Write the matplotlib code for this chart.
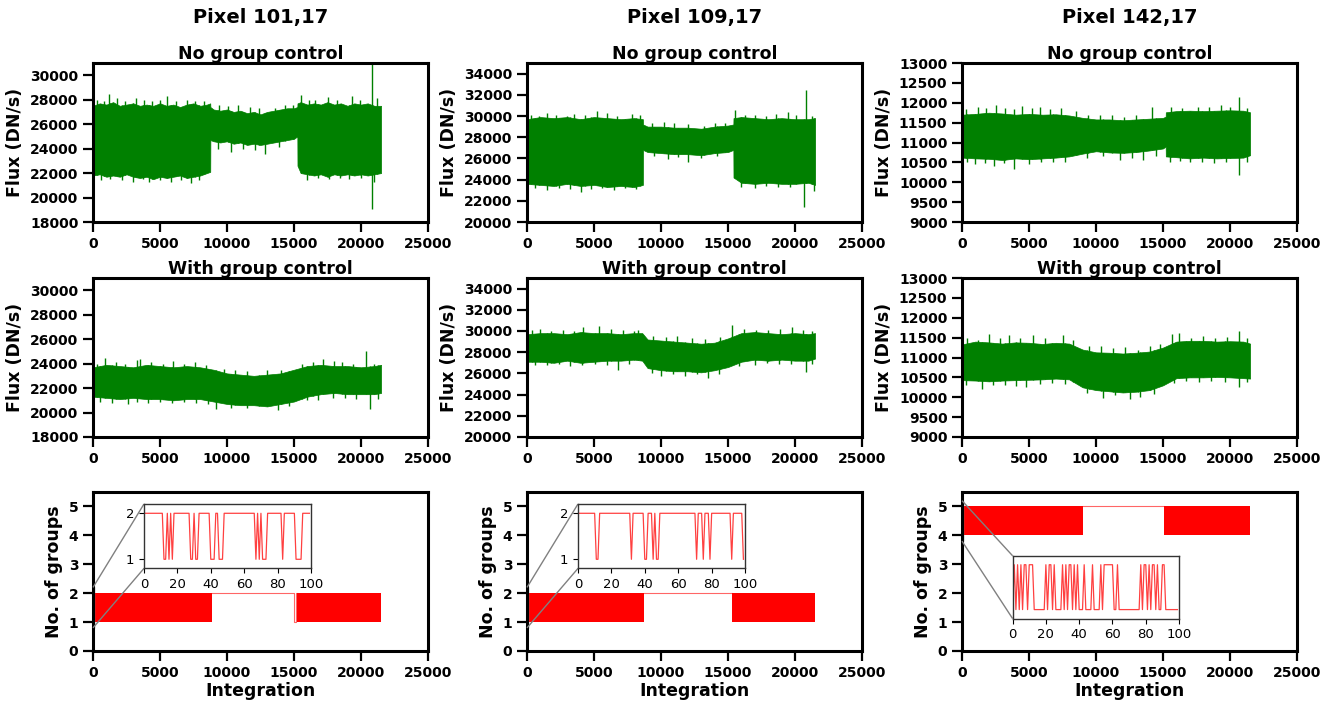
#3ピクセルのフラックスとグループ数（group controlの有無）をプロットする。
import numpy as np
import matplotlib.pyplot as plt
from mpl_toolkits.axes_grid1.inset_locator import mark_inset

plt.rcParams['font.family'] = ['DejaVu Sans']
plt.rcParams['font.weight'] = 'bold'
plt.rcParams['axes.labelweight'] = 'bold'
plt.rcParams['axes.titleweight'] = 'bold'

pixels = ['Pixel 101,17', 'Pixel 109,17', 'Pixel 142,17']
flux_ylim = [(18000, 31000), (20000, 35000), (9000, 13000)]
flux_yticks = [np.arange(18000, 30001, 2000), np.arange(20000, 34001, 2000), np.arange(9000, 13001, 500)]

# ---- 101,17 no group control (envelope of the noisy band) ----
a1_x = [0, 500, 1000, 1500, 2000, 2500, 3000, 3500, 4000, 4500, 5000, 5500, 6000, 6500, 7000, 7500,
        8000, 8500, 8750, 8760, 9000, 9500, 10000, 10500, 11000, 11500, 12000, 12500, 13000, 13500,
        14000, 14500, 15000, 15250, 15260, 15500, 16000, 16500, 17000, 17500, 18000, 18500, 19000,
        19500, 20000, 20500, 21000, 21500]
a1_hi = [27500, 27700, 27600, 27800, 27500, 27600, 27700, 27500, 27600, 27500, 27700, 27500, 27600, 27400,
         27600, 27700, 27500, 27600, 27700, 27400, 27200, 27100, 27200, 27000, 27100, 26900, 27000, 26800,
         27000, 27100, 27200, 27300, 27300, 27400, 27700, 27800, 27600, 27700, 27600, 27800, 27600, 27700,
         27500, 27700, 27600, 27700, 27500, 27500]
a1_lo = [21800, 21900, 21700, 21800, 21700, 21900, 21700, 21600, 21700, 21500, 21700, 21600, 21700, 21800,
         21600, 21700, 21800, 22000, 22100, 24700, 24600, 24500, 24600, 24400, 24500, 24300, 24400, 24300,
         24400, 24500, 24600, 24700, 24800, 25000, 22600, 22000, 21900, 21800, 21900, 21700, 21900, 21800,
         21900, 21800, 21900, 21800, 21900, 22000]
a1_up_x = [300, 800, 1200, 1800, 2400, 3200, 3800, 4400, 5000, 5500, 6200, 7000, 7600, 8300,
           9400, 10100, 10800, 11700, 12400, 13600, 14300, 14900,
           15500, 16100, 16600, 17500, 18200, 19300, 19900, 20800, 21200]
a1_up_y = [28000, 27900, 28500, 28100, 27900, 28100, 28000, 27900, 28000, 28300, 27900, 28000, 27900, 27900,
           27600, 27500, 27600, 27400, 27300, 27300, 27600, 27600,
           28400, 28000, 28000, 28200, 28000, 28300, 28000, 31000, 28100]
a1_dn_x = [600, 1300, 2200, 3000, 3700, 4200, 5000, 5800, 6600, 7300, 7900,
           9300, 10300, 11200, 12100, 12800, 13900,
           16000, 16800, 17600, 18400, 19100, 20000, 20800, 21000]
a1_dn_y = [21400, 21500, 21400, 21300, 21500, 21300, 21400, 21300, 21400, 21200, 21400,
           24000, 23700, 24000, 23900, 23600, 24100,
           21400, 21600, 21500, 21600, 21500, 21600, 19100, 21300]

# ---- 101,17 with group control ----
a2_x = [0, 1000, 2000, 3000, 4000, 5000, 6000, 7000, 8000, 9000, 10000, 11000, 12000, 13000, 14000,
        15000, 16000, 17000, 18000, 19000, 20000, 21000, 21500]
a2_hi = [23700, 23900, 23800, 23700, 23900, 23800, 23700, 23800, 23700, 23500, 23200, 23100, 23000, 23100,
         23200, 23500, 23800, 23900, 23800, 23800, 23700, 23800, 23900]
a2_lo = [21300, 21200, 21100, 21200, 21100, 21100, 21000, 21100, 21100, 20900, 20700, 20600, 20600, 20500,
         20700, 20900, 21300, 21500, 21600, 21500, 21500, 21500, 21600]
a2_up_x = [300, 900, 1700, 2400, 3300, 3500, 4300, 5200, 6000, 6800, 7600, 8400, 9800, 10600, 11500,
           13000, 14000, 15600, 16400, 17200, 18000, 18600, 19400, 20400, 21000]
a2_up_y = [24000, 24500, 24100, 24000, 24300, 24400, 24100, 24000, 24200, 24000, 24100, 23900, 23600, 23500,
           23400, 23500, 23500, 24000, 24100, 24400, 24200, 24100, 24000, 25000, 24000]
a2_dn_x = [500, 1400, 2600, 3300, 4100, 5000, 5900, 6800, 7700, 8600, 9200, 10300, 11500, 12400, 13800,
           14600, 16000, 16800, 17900, 18800, 19600, 20700, 21300]
a2_dn_y = [20900, 20800, 20700, 20900, 20800, 20900, 20800, 20900, 20800, 20700, 20300, 20400, 20400, 20500,
           20200, 20500, 21000, 21000, 21200, 21200, 21100, 20300, 21100]

# ---- 109,17 no group control ----
b1_x = [0, 1000, 2000, 3000, 4000, 5000, 6000, 7000, 8000, 8650, 8660, 9000, 10000, 11000, 12000, 13000,
        14000, 15000, 15400, 15410, 16000, 17000, 18000, 19000, 20000, 21000, 21500]
b1_hi = [29700, 29900, 29800, 29900, 29700, 29900, 29800, 29700, 29800, 29700, 29200, 29000, 29000, 28900,
         28900, 28800, 29000, 29100, 29200, 29800, 29900, 29800, 29700, 29800, 29700, 29700, 29800]
b1_lo = [23600, 23500, 23400, 23600, 23400, 23500, 23300, 23400, 23300, 23500, 26800, 26600, 26500, 26400,
         26400, 26300, 26500, 26600, 26800, 24200, 23700, 23600, 23700, 23600, 23600, 23700, 23500]
b1_up_x = [300, 900, 1500, 2200, 3000, 3500, 4300, 5200, 6000, 6700, 7800, 8400,
           9300, 10200, 11000, 12000, 13200, 14000, 14800,
           15500, 16300, 17000, 17800, 18600, 19500, 20100, 20800, 21300]
b1_up_y = [30100, 30000, 30300, 30100, 30000, 30200, 30100, 30500, 30300, 30000, 30200, 30100,
           29300, 29400, 29300, 29200, 29100, 29300, 29300,
           30600, 30100, 30100, 30000, 30200, 30400, 30100, 32500, 30000]
b1_dn_x = [600, 1500, 2400, 3200, 4000, 4800, 5600, 6500, 7300, 8100,
           9500, 10500, 11300, 12000, 13000, 14200,
           16000, 17000, 17800, 18700, 19600, 20700, 21400]
b1_dn_y = [23200, 23000, 23200, 23100, 22800, 23100, 23200, 23000, 23200, 23100,
           26200, 25900, 26100, 25700, 26000, 26200,
           23300, 23200, 23400, 23300, 23300, 21400, 22900]

# ---- 109,17 with group control ----
b2_x = [0, 1000, 2000, 3000, 4000, 5000, 6000, 7000, 8000, 8600, 9000, 10000, 11000, 12000, 13000, 14000,
        15000, 16000, 17000, 18000, 19000, 20000, 21000, 21500]
b2_hi = [29700, 29800, 29800, 29700, 29900, 29800, 29800, 29700, 29800, 29800, 29200, 29100, 29000, 28900,
         28800, 28900, 29300, 29800, 29900, 29800, 29700, 29800, 29700, 29800]
b2_lo = [27100, 27100, 27000, 27200, 27000, 27100, 27200, 27200, 27300, 27200, 26500, 26300, 26200, 26200,
         26100, 26300, 26600, 27100, 27300, 27200, 27300, 27200, 27200, 27400]
b2_up_x = [400, 1000, 1800, 2700, 3500, 4200, 5400, 6300, 7200, 8000, 8300,
           9400, 10400, 11200, 12300, 13300, 14400,
           15300, 16200, 17100, 18000, 18900, 19800, 20600, 21300]
b2_up_y = [30100, 30200, 30000, 30100, 30000, 30400, 30500, 30200, 30100, 30000, 30100,
           29500, 29400, 29500, 29300, 29200, 29400,
           30600, 30200, 30100, 30100, 30200, 30400, 30100, 30000]
b2_dn_x = [600, 1500, 2400, 3200, 4100, 5100, 6000, 6800, 7600,
           9300, 10000, 10900, 11800, 12700, 13500, 14300,
           15800, 17000, 17900, 18800, 19700, 20800, 21300]
b2_dn_y = [26800, 26800, 26900, 26700, 26800, 26900, 26800, 26300, 26900,
           26000, 25800, 25900, 25800, 25900, 25600, 25900,
           26700, 26800, 27000, 26900, 26900, 26100, 26900]

# ---- 142,17 no group control ----
c1_x = [0, 1000, 2000, 3000, 4000, 5000, 6000, 7000, 8000, 9000, 10000, 11000, 12000, 13000, 14000, 15000,
        15200, 15210, 16000, 17000, 18000, 19000, 20000, 21000, 21500]
c1_hi = [11700, 11720, 11750, 11730, 11700, 11720, 11700, 11710, 11680, 11620, 11580, 11580, 11560, 11580,
         11600, 11620, 11650, 11760, 11790, 11800, 11790, 11800, 11810, 11800, 11760]
c1_lo = [10620, 10600, 10590, 10560, 10600, 10580, 10600, 10620, 10650, 10720, 10780, 10750, 10740, 10760,
         10800, 10850, 10900, 10650, 10630, 10600, 10620, 10600, 10610, 10620, 10680]
c1_up_x = [300, 1200, 1800, 2500, 3200, 3900, 4500, 5200, 5800, 6600, 7400, 8500,
           9400, 10300, 11200, 12100, 13000, 14200,
           15600, 16400, 17600, 18400, 19300, 20000, 20700, 21300]
c1_up_y = [11850, 11900, 11880, 11950, 11860, 11850, 11920, 11870, 11900, 11850, 11860, 11800,
           11700, 11680, 11700, 11650, 11700, 11900,
           11900, 11880, 11900, 11890, 11950, 11900, 12150, 11880]
c1_dn_x = [400, 1000, 1700, 2400, 3100, 3900, 5000, 5900, 6800, 7700,
           9300, 10500, 11800, 12700, 13500, 14500,
           15500, 16300, 17000, 17900, 18800, 19700, 20700, 21300]
c1_dn_y = [10500, 10450, 10480, 10400, 10480, 10330, 10450, 10500, 10500, 10520,
           10620, 10650, 10550, 10620, 10560, 10650,
           10520, 10530, 10500, 10520, 10490, 10500, 10180, 10520]

# ---- 142,17 with group control ----
c2_x = [0, 1000, 2000, 3000, 4000, 5000, 6000, 7000, 8000, 9000, 10000, 11000, 12000, 13000, 14000,
        15000, 16000, 17000, 18000, 19000, 20000, 21000, 21500]
c2_hi = [11330, 11400, 11380, 11350, 11380, 11370, 11340, 11370, 11350, 11200, 11130, 11120, 11100, 11120,
         11150, 11250, 11400, 11420, 11420, 11400, 11410, 11400, 11350]
c2_lo = [10430, 10420, 10400, 10420, 10430, 10440, 10450, 10470, 10450, 10250, 10180, 10150, 10120, 10140,
         10180, 10300, 10480, 10500, 10500, 10510, 10500, 10480, 10470]
c2_up_x = [400, 1200, 2000, 2800, 3500, 4300, 5300, 6200, 7500, 8300,
           9500, 10400, 11300, 12200, 13100, 14000, 14800,
           15700, 16200, 17100, 18000, 18900, 19800, 20700, 21300]
c2_up_y = [11500, 11450, 11580, 11480, 11560, 11500, 11560, 11480, 11560, 11450,
           11300, 11280, 11250, 11260, 11200, 11300, 11350,
           11580, 11620, 11500, 11550, 11500, 11520, 11660, 11480]
c2_dn_x = [300, 1500, 2300, 3200, 4000, 4800, 5800, 6700, 7700,
           9300, 10500, 11400, 12500, 13300, 14300,
           15800, 16700, 17700, 18600, 19600, 20700, 21300]
c2_dn_y = [10300, 10200, 10300, 10320, 10280, 10250, 10330, 10350, 10330,
           10100, 9980, 10050, 9950, 10000, 10080,
           10350, 10400, 10380, 10400, 10390, 10250, 10380]

# ---- number of groups ----
# 2値を高速に行き来する区間（塗りつぶしで描く）
grp_blocks = [[(0, 8900), (15250, 21500)], [(0, 8700), (15300, 21500)], [(0, 9000), (15100, 21500)]]
grp_levels = [(1, 2), (1, 2), (4, 5)]
# 一定値の区間
grp_line_x = [[8900, 15000, 15000, 15130, 15130, 15250], [8700, 15300], [9000, 15100]]
grp_line_y = [[2, 2, 1, 1, 2, 2], [2, 2], [5, 5]]

# 最初の100 integration（inset）
inset_101 = [2, 2, 2, 2, 2, 2, 2, 2, 2, 2,
             2, 2, 1, 1, 2, 1, 2, 1, 2, 2,
             2, 2, 2, 2, 2, 2, 2, 2, 1, 1,
             2, 1, 1, 2, 2, 2, 2, 2, 2, 2,
             1, 1, 1, 2, 2, 1, 1, 1, 2, 2,
             2, 2, 2, 2, 2, 2, 2, 2, 2, 2,
             2, 2, 2, 2, 2, 2, 2, 1, 2, 1,
             2, 1, 1, 1, 2, 2, 2, 2, 2, 2,
             2, 2, 2, 1, 2, 2, 2, 2, 2, 2,
             2, 1, 1, 1, 1, 2, 2, 2, 2, 2]
inset_109 = [2, 2, 2, 2, 2, 2, 2, 2, 2, 2,
             2, 1, 1, 2, 2, 2, 2, 2, 2, 2,
             2, 2, 2, 2, 2, 2, 2, 2, 2, 2,
             2, 2, 1, 2, 2, 2, 2, 2, 2, 2,
             1, 1, 2, 2, 2, 1, 2, 1, 1, 2,
             2, 2, 2, 2, 2, 2, 2, 2, 2, 2,
             2, 2, 2, 2, 2, 2, 2, 2, 2, 2,
             2, 1, 2, 2, 2, 1, 2, 2, 2, 1,
             2, 2, 2, 2, 2, 2, 2, 2, 2, 2,
             2, 2, 1, 2, 2, 2, 2, 2, 2, 1]
inset_142 = [4, 5, 4, 5, 4, 5, 4, 5, 5, 4,
             5, 5, 5, 4, 4, 4, 4, 4, 4, 4,
             5, 4, 5, 5, 4, 5, 4, 4, 4, 4,
             5, 4, 5, 4, 5, 5, 4, 5, 4, 5,
             4, 4, 4, 5, 4, 4, 4, 4, 5, 4,
             4, 4, 4, 5, 4, 5, 5, 5, 5, 5,
             5, 4, 4, 5, 4, 4, 4, 4, 4, 4,
             4, 4, 4, 4, 4, 4, 4, 5, 4, 5,
             5, 4, 5, 4, 5, 5, 4, 5, 4, 4,
             5, 5, 4, 4, 4, 4, 4, 4, 4, 4]
insets = [inset_101, inset_109, inset_142]
inset_ylim = [(0.8, 2.2), (0.8, 2.2), (3.8, 5.2)]

no_gc = [(a1_x, a1_hi, a1_lo, a1_up_x, a1_up_y, a1_dn_x, a1_dn_y),
         (b1_x, b1_hi, b1_lo, b1_up_x, b1_up_y, b1_dn_x, b1_dn_y),
         (c1_x, c1_hi, c1_lo, c1_up_x, c1_up_y, c1_dn_x, c1_dn_y)]
with_gc = [(a2_x, a2_hi, a2_lo, a2_up_x, a2_up_y, a2_dn_x, a2_dn_y),
           (b2_x, b2_hi, b2_lo, b2_up_x, b2_up_y, b2_dn_x, b2_dn_y),
           (c2_x, c2_hi, c2_lo, c2_up_x, c2_up_y, c2_dn_x, c2_dn_y)]


def style_axes(ax):
    for s in ax.spines.values():
        s.set_linewidth(2.2)
    ax.tick_params(direction='out', length=7, width=1.6, labelsize=10)
    ax.set_xlim(0, 25000)
    ax.set_xticks(np.arange(0, 25001, 5000))


def draw_flux(ax, series):
    x, hi, lo, up_x, up_y, dn_x, dn_y = series
    ax.fill_between(x, lo, hi, color='green', lw=0.5)
    # 飛び出したスパイク
    ax.vlines(up_x, np.interp(up_x, x, lo), up_y, color='green', lw=1.0)
    ax.vlines(dn_x, dn_y, np.interp(dn_x, x, hi), color='green', lw=1.0)


fig = plt.figure(figsize=(13.35, 7.04), dpi=100)
W, H = 1335, 704
col_left = [93, 527, 962]
row_top = [63, 278, 492]
aw, ah = 335, 159

for c in range(3):
    axes = []
    for r in range(3):
        ax = fig.add_axes([col_left[c] / W, 1 - (row_top[r] + ah) / H, aw / W, ah / H])
        style_axes(ax)
        axes.append(ax)

    # row 1, 2: flux
    for r, (series, title) in enumerate([(no_gc[c], 'No group control'), (with_gc[c], 'With group control')]):
        ax = axes[r]
        draw_flux(ax, series)
        ax.set_ylim(*flux_ylim[c])
        ax.set_yticks(flux_yticks[c])
        ax.set_title(title, fontsize=12.5, pad=3)
        ax.set_ylabel('Flux (DN/s)', fontsize=12.5)

    # row 3: number of groups
    ax = axes[2]
    lo_v, hi_v = grp_levels[c]
    for x0, x1 in grp_blocks[c]:
        ax.fill_between([x0, x1], [lo_v, lo_v], [hi_v, hi_v], color='red', lw=0)
    ax.plot(grp_line_x[c], grp_line_y[c], color='red', lw=0.8, alpha=0.6)
    ax.set_ylim(0, 5.5)
    ax.set_yticks(range(6))
    ax.set_ylabel('No. of groups', fontsize=12.5)
    ax.set_xlabel('Integration', fontsize=12.5, labelpad=2)

    # inset（最初の100 integration）
    if c < 2:
        axins = ax.inset_axes([0.152, 0.519, 0.499, 0.405])
    else:
        axins = ax.inset_axes([0.151, 0.204, 0.497, 0.395])
    axins.plot(range(len(insets[c])), insets[c], color='red', lw=0.9, alpha=0.75)
    axins.set_xlim(0, 100)
    axins.set_ylim(*inset_ylim[c])
    axins.set_xticks(range(0, 101, 20))
    if c < 2:
        axins.set_yticks([1, 2])
    else:
        axins.set_yticks([])
    for s in axins.spines.values():
        s.set_linewidth(1.0)
        s.set_color('0.2')
    axins.tick_params(labelsize=9.5, length=3.5, width=0.8)
    for lab in axins.get_xticklabels() + axins.get_yticklabels():
        lab.set_fontweight('normal')
    mark_inset(ax, axins, loc1=2, loc2=3, fc='none', ec='0.5', lw=1.0)

    fig.text((col_left[c] + aw / 2) / W, 1 - 17 / H, pixels[c], ha='center', va='center',
             fontsize=14, fontweight='bold')

fig.savefig('out.png', dpi=100)
